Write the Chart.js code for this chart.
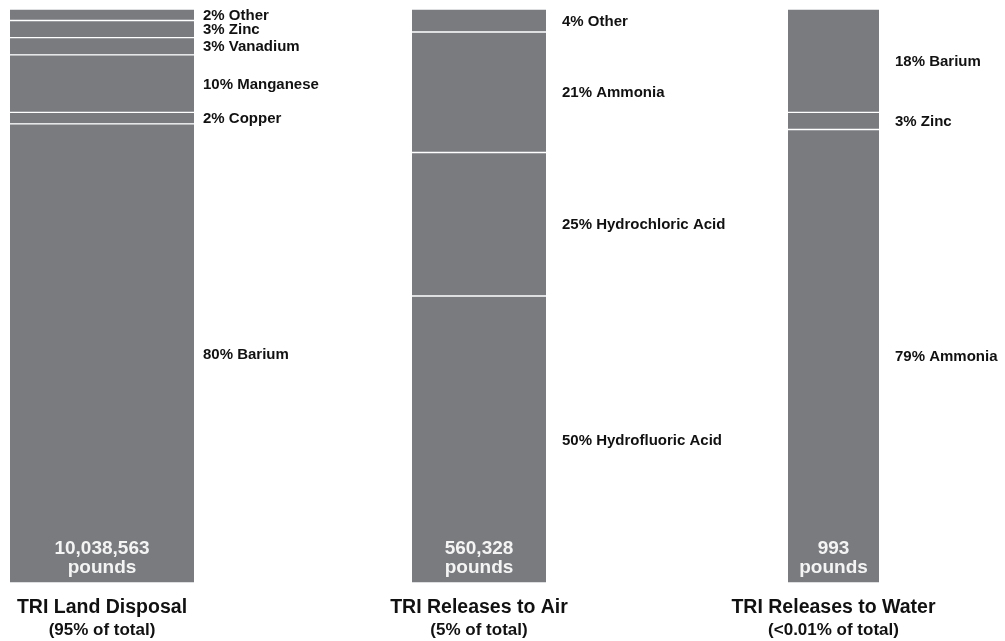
<!DOCTYPE html>
<html>
<head>
<meta charset="utf-8">
<script src="https://cdn.jsdelivr.net/npm/chart.js@4/dist/chart.umd.min.js"></script>
<style>
  html, body { margin: 0; padding: 0; background: #ffffff; }
  #wrap { position: relative; width: 1005px; height: 641px; }
  #wrap canvas { position: absolute; left: 0; top: 0; }
</style>
</head>
<body>
<div id="wrap">
  <canvas id="land" width="1005" height="641"></canvas>
  <canvas id="air" width="1005" height="641"></canvas>
  <canvas id="water" width="1005" height="641"></canvas>
</div>
<script>
// Chemical shares (percent of each release type), listed bottom to top of each bar
const landCategories = ['Barium', 'Copper', 'Manganese', 'Vanadium', 'Zinc', 'Other'];
const landShares = [80, 2, 10, 3, 3, 2];

const airCategories = ['Hydrofluoric Acid', 'Hydrochloric Acid', 'Ammonia', 'Other'];
const airShares = [50, 25, 21, 4];

const waterCategories = ['Ammonia', 'Zinc', 'Barium'];
const waterShares = [79, 3, 18];

// Panel captions
const panelTitles = ['TRI Land Disposal', 'TRI Releases to Air', 'TRI Releases to Water'];
const panelSubtitles = ['(95% of total)', '(5% of total)', '(<0.01% of total)'];
const panelTotals = ['10,038,563', '560,328', '993'];
const totalUnit = 'pounds';

// Page layout: bar edges in canvas pixels and gap before the side labels
const W = 1005, H = 641;
const panelLayout = [
  { canvas: 'land',  left: 10,  right: 194, gap: 9 },
  { canvas: 'air',   left: 412, right: 546, gap: 16 },
  { canvas: 'water', left: 788, right: 879, gap: 16 }
];

const BAR_COLOR = '#797b7f';
const FONT = '"Liberation Sans", Arial, Helvetica, sans-serif';

const annotate = {
  id: 'annotate',
  afterDatasetsDraw(chart, args, opts) {
    const ctx = chart.ctx;
    const area = chart.chartArea;
    const cx = (area.left + area.right) / 2;
    ctx.save();

    // segment labels to the right of the bar
    ctx.font = 'bold 15px ' + FONT;
    ctx.fillStyle = '#111111';
    ctx.textAlign = 'left';
    ctx.textBaseline = 'middle';
    chart.data.datasets.forEach((ds, i) => {
      const el = chart.getDatasetMeta(i).data[0];
      const mid = (el.y + el.base) / 2;
      ctx.fillText(ds.data[0] + '% ' + ds.label, area.right + opts.gap, mid + 1);
    });

    // total inside the bottom of the bar
    ctx.fillStyle = '#f4f4f4';
    ctx.textAlign = 'center';
    ctx.textBaseline = 'alphabetic';
    ctx.font = 'bold 19px ' + FONT;
    ctx.fillText(opts.total, cx, area.bottom - 29);
    ctx.fillText(totalUnit, cx, area.bottom - 10);

    // caption under the bar
    ctx.fillStyle = '#111111';
    ctx.font = 'bold 19.5px ' + FONT;
    ctx.fillText(opts.title, cx, 613);
    ctx.font = 'bold 17px ' + FONT;
    ctx.fillText(opts.subtitle, cx, 635);

    ctx.restore();
  }
};

function makePanel(idx, categories, shares) {
  const lay = panelLayout[idx];
  const datasets = categories.map((name, i) => ({
    label: name,
    data: [shares[i]],
    backgroundColor: BAR_COLOR,
    borderColor: '#ffffff',
    borderWidth: { top: 1, bottom: 1, left: 0, right: 0 },
    borderSkipped: false,
    barPercentage: 1,
    categoryPercentage: 1
  }));
  return new Chart(document.getElementById(lay.canvas), {
    type: 'bar',
    data: { labels: [panelTitles[idx]], datasets },
    options: {
      responsive: false,
      animation: false,
      devicePixelRatio: 1,
      layout: {
        padding: { left: lay.left, right: W - lay.right, top: 9, bottom: H - 583 }
      },
      scales: {
        x: { display: false, stacked: true },
        y: { display: false, stacked: true, min: 0, max: 100 }
      },
      plugins: {
        legend: { display: false },
        tooltip: { enabled: true },
        annotate: {
          gap: lay.gap,
          total: panelTotals[idx],
          title: panelTitles[idx],
          subtitle: panelSubtitles[idx]
        }
      }
    },
    plugins: [annotate]
  });
}

makePanel(0, landCategories, landShares);
makePanel(1, airCategories, airShares);
makePanel(2, waterCategories, waterShares);
</script>
</body>
</html>
